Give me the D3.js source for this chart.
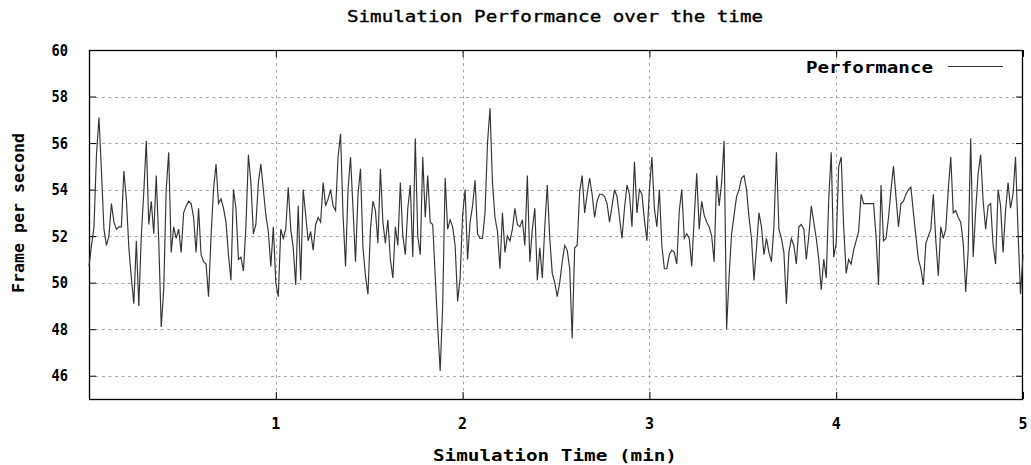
<!DOCTYPE html>
<html><head><meta charset="utf-8">
<script src="https://cdn.jsdelivr.net/npm/d3@7"></script>
<style>
body{margin:0;background:#fff}
svg{display:block}
text{font-family:"DejaVu Sans Mono","Liberation Mono",monospace;fill:#000}
</style>
</head><body>
<svg id="chart" width="1031" height="465"></svg>
<script>
const chartTitle = "Simulation Performance over the time";
const xLabel = "Simulation Time (min)";
const yLabel = "Frame per second";
const seriesName = "Performance";
const xTickValues = [1, 2, 3, 4, 5];
const yTickValues = [46, 48, 50, 52, 54, 56, 58, 60];
const xDomain = [0, 5];
const yDomain = [45, 60];
const sampleStepMin = 5 / 375; // sampling interval of the simulation log (minutes)

const fps = [
  // 0.0 - 0.6 min
  50.7, 51.6, 52.4, 55.5, 57.1, 54.8, 52.3, 51.6, 52.0, 53.4, 52.6, 52.3, 52.4, 52.4, 54.8, 53.6, 51.5, 50.2, 49.1, 51.8, 49.0, 52.0,
  53.9, 56.1, 52.5, 53.5, 52.1, 54.6, 51.8, 48.1, 49.7, 54.0, 55.6, 51.3, 52.4, 51.9, 52.3, 51.3, 53.0, 53.3, 53.5, 53.4, 52.8, 51.3,
  // 0.6 - 1.2 min
  53.2, 51.2, 50.9, 50.8, 49.4, 52.0, 54.0, 55.1, 53.4, 53.6, 53.2, 52.6, 51.2, 50.1, 54.0, 53.2, 51.0, 51.1, 50.5, 52.4, 55.5, 54.3, 52.1,
  52.5, 54.3, 55.1, 54.0, 52.9, 52.2, 50.7, 52.4, 50.0, 49.4, 52.3, 51.9, 52.3, 54.1, 52.3, 51.5, 49.9, 53.3, 50.1, 54.0, 52.9, 51.8, 52.2,
  // 1.2 - 1.8 min
  51.4, 52.5, 52.8, 52.6, 54.3, 53.3, 53.6, 54.0, 53.3, 53.1, 55.4, 56.4, 52.9, 50.7, 54.0, 55.4, 53.2, 50.9, 53.8, 54.9, 51.5, 50.3, 49.5,
  52.3, 53.5, 53.1, 51.7, 54.9, 52.6, 51.7, 52.7, 51.0, 50.2, 52.4, 51.6, 54.3, 52.0, 51.2, 53.2, 54.2, 51.1, 56.2, 52.0, 51.2, 55.4, 52.8,
  // 1.8 - 2.4 min
  54.6, 52.6, 52.5, 50.3, 48.1, 46.2, 49.0, 54.5, 52.3, 52.7, 52.4, 51.6, 49.2, 50.2, 52.9, 54.0, 51.0, 52.6, 53.3, 54.4, 52.1, 51.9, 51.9,
  53.0, 56.0, 57.5, 54.3, 52.8, 52.2, 50.6, 53.0, 51.3, 52.0, 51.8, 52.3, 53.2, 52.5, 52.4, 52.7, 51.6, 54.6, 50.9, 52.3, 53.2, 50.1, 51.5,
  // 2.4 - 3.0 min
  50.2, 52.4, 54.2, 51.9, 50.4, 50.0, 49.4, 50.0, 50.9, 51.6, 51.4, 50.6, 47.6, 51.5, 51.6, 53.9, 54.6, 53.0, 53.8, 54.5, 53.8, 52.8, 53.5,
  53.8, 53.8, 53.7, 53.4, 52.6, 53.3, 54.0, 53.7, 52.8, 51.9, 53.2, 54.2, 53.8, 52.4, 55.2, 53.0, 54.0, 53.8, 52.7, 51.8, 54.0, 55.4, 53.2,
  // 3.0 - 3.7 min
  52.4, 54.0, 51.6, 50.6, 50.6, 51.2, 51.4, 51.3, 50.8, 53.1, 54.0, 51.9, 52.1, 51.9, 50.7, 52.8, 54.7, 52.3, 53.5, 52.9, 52.6, 52.4, 52.0,
  50.9, 54.6, 53.3, 54.3, 56.1, 48.0, 50.3, 52.1, 52.9, 53.7, 54.0, 54.5, 54.6, 54.0, 52.8, 51.9, 50.1, 51.5, 53.0, 52.4, 51.2, 51.9, 51.3,
  // 3.7 - 4.3 min
  50.9, 52.4, 55.6, 52.3, 51.9, 51.3, 49.1, 51.3, 51.9, 51.6, 50.8, 52.4, 52.5, 52.3, 51.0, 52.0, 53.3, 52.6, 51.9, 51.0, 49.7, 51.0, 50.2,
  53.6, 55.6, 51.1, 51.7, 55.0, 55.4, 52.4, 50.4, 51.0, 50.8, 51.4, 51.8, 52.2, 53.8, 53.4, 53.4, 53.4, 53.4, 53.4, 52.0, 49.9, 54.2, 51.8,
  // 4.3 - 5.0 min
  51.9, 52.8, 54.0, 55.0, 53.7, 52.4, 53.4, 53.5, 53.8, 54.0, 54.1, 53.0, 52.0, 51.0, 50.6, 49.9, 51.7, 52.0, 52.3, 53.8, 51.8, 50.3, 52.4, 51.9, 52.3, 54.0, 55.4, 53.0,
  53.1, 52.8, 52.6, 51.7, 49.6, 51.4, 56.2, 51.1, 53.1, 54.7, 55.5, 53.5, 52.3, 53.3, 53.4, 51.6, 50.8, 54.0, 53.3, 51.3, 53.1, 54.3, 53.2, 53.8, 55.4, 52.2, 49.5, 51.2
];

const svg = d3.select("#chart");
const m = {left: 89, right: 1023, top: 50, bottom: 399};

const x = d3.scaleLinear().domain(xDomain).range([m.left, m.right]);
const y = d3.scaleLinear().domain(yDomain).range([m.bottom, m.top]);

const data = fps.map((v, i) => ({t: i * sampleStepMin, v}));

// grid
const grid = svg.append("g").attr("stroke", "#a8a8a8").attr("stroke-width", 1).attr("stroke-dasharray", "3,3.5");
grid.selectAll("line.gy").data(yTickValues.filter(d => d > yDomain[0] && d < yDomain[1]))
  .join("line").attr("x1", m.left).attr("x2", m.right)
  .attr("y1", d => Math.round(y(d)) + 0.5).attr("y2", d => Math.round(y(d)) + 0.5);
grid.selectAll("line.gx").data(xTickValues.filter(d => d > xDomain[0] && d < xDomain[1]))
  .join("line").attr("y1", m.top).attr("y2", m.bottom)
  .attr("x1", d => Math.round(x(d)) + 0.5).attr("x2", d => Math.round(x(d)) + 0.5);

// axes (gnuplot-style inward ticks, mirrored)
const tl = 7;
const axL = svg.append("g").attr("transform", `translate(${m.left},0)`)
  .call(d3.axisRight(y).tickValues(yTickValues).tickSize(tl).tickFormat(""));
const axR = svg.append("g").attr("transform", `translate(${m.right},0)`)
  .call(d3.axisLeft(y).tickValues(yTickValues).tickSize(tl).tickFormat(""));
const axB = svg.append("g").attr("transform", `translate(0,${m.bottom})`)
  .call(d3.axisTop(x).tickValues(xTickValues).tickSize(tl).tickFormat(""));
const axT = svg.append("g").attr("transform", `translate(0,${m.top})`)
  .call(d3.axisBottom(x).tickValues(xTickValues).tickSize(tl).tickFormat(""));
[axL, axR, axB, axT].forEach(a => {
  a.select(".domain").remove();
  a.selectAll("line").attr("stroke", "#000").attr("stroke-width", 1);
});

// frame
svg.append("rect").attr("x", m.left + 0.5).attr("y", m.top + 0.5)
  .attr("width", m.right - m.left - 1).attr("height", m.bottom - m.top)
  .attr("fill", "none").attr("stroke", "#000").attr("stroke-width", 1.3);

// tick labels
svg.append("g").selectAll("text").data(yTickValues).join("text")
  .attr("x", 68).attr("y", d => y(d) + 5.5)
  .attr("text-anchor", "end").attr("font-size", 15).attr("font-weight", "bold")
  .attr("textLength", 16.5).attr("lengthAdjust", "spacingAndGlyphs")
  .text(d => d);
svg.append("g").selectAll("text").data(xTickValues).join("text")
  .attr("x", d => x(d)).attr("y", 429)
  .attr("text-anchor", "middle").attr("font-size", 15).attr("font-weight", "bold")
  .text(d => d);

// line
const line = d3.line().x(d => x(d.t)).y(d => y(d.v));
svg.append("path").datum(data).attr("d", line)
  .attr("fill", "none").attr("stroke", "#333").attr("stroke-width", 1.15)
  .attr("stroke-linejoin", "miter");

// titles
svg.append("text").attr("x", 555).attr("y", 22).attr("text-anchor", "middle")
  .attr("font-size", 15).attr("textLength", 416).attr("lengthAdjust", "spacingAndGlyphs")
  .attr("stroke", "#000").attr("stroke-width", 0.35)
  .text(chartTitle);
svg.append("text").attr("x", 555).attr("y", 461).attr("text-anchor", "middle")
  .attr("font-size", 15).attr("font-weight", "bold")
  .attr("textLength", 244).attr("lengthAdjust", "spacingAndGlyphs")
  .text(xLabel);
svg.append("text").attr("transform", "translate(23.5,213) rotate(-90)")
  .attr("text-anchor", "middle").attr("font-size", 15).attr("font-weight", "bold")
  .attr("textLength", 160).attr("lengthAdjust", "spacingAndGlyphs")
  .text(yLabel);

// legend
svg.append("text").attr("x", 806).attr("y", 73)
  .attr("font-size", 15).attr("font-weight", "bold")
  .attr("textLength", 127).attr("lengthAdjust", "spacingAndGlyphs")
  .text(seriesName);
svg.append("line").attr("x1", 948).attr("x2", 1003).attr("y1", 66.5).attr("y2", 66.5)
  .attr("stroke", "#333").attr("stroke-width", 1.15);
</script>
</body></html>
